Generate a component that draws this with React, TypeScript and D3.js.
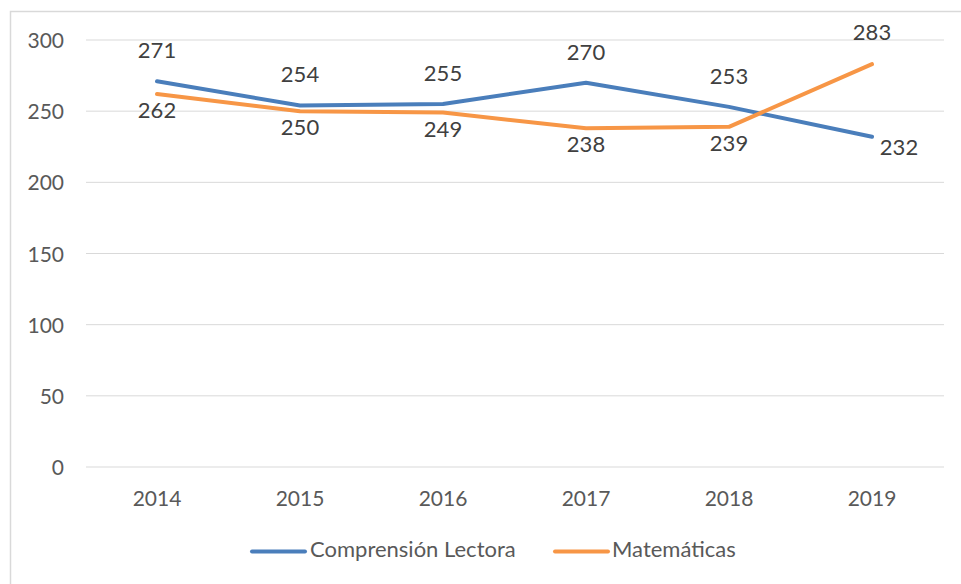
import React from 'react';
import * as d3 from 'd3';

const years = ['2014', '2015', '2016', '2017', '2018', '2019'];
const lectora = [271, 254, 255, 270, 253, 232];
const matematicas = [262, 250, 249, 238, 239, 283];
const yTicks = [0, 50, 100, 150, 200, 250, 300];
// which series' label sits above the point (true) for each year
const lectoraAbove = [true, true, true, true, true, false];

const W = 961;
const H = 584;
const BLUE = '#4a7ebb';
const ORANGE = '#f79646';
const TEXT = '#595959';
const FONT = 'Lato, "Open Sans", sans-serif';

const App = () => {
  const x = d3.scalePoint().domain(years).range([157, 872]);
  const y = d3.scaleLinear().domain([0, 300]).range([467, 40]);

  const line = d3.line<number>()
    .x((d, i) => x(years[i]) as number)
    .y(d => y(d));

  const series = [
    { name: 'Comprensión Lectora', values: lectora, color: BLUE },
    { name: 'Matemáticas', values: matematicas, color: ORANGE },
  ];

  return (
    <svg width={W} height={H} style={{ position: 'absolute', left: 0, top: 0 }} fontFamily={FONT}>
      <rect x={0} y={0} width={W} height={H} fill="white" />
      <rect x={10.5} y={11.5} width={W + 10} height={H + 10} fill="none" stroke="#d9d9d9" strokeWidth={1.5} />

      {/* grid + y labels */}
      {yTicks.map(t => (
        <g key={t}>
          <line x1={86} x2={944} y1={y(t)} y2={y(t)} stroke="#d9d9d9" strokeWidth={1} />
          <text x={64} y={y(t) + 8} textAnchor="end" fontSize={21} fill={TEXT}>{t}</text>
        </g>
      ))}

      {/* x labels */}
      {years.map(yr => (
        <text key={yr} x={x(yr)} y={506} textAnchor="middle" fontSize={21} fill={TEXT}>{yr}</text>
      ))}

      {/* lines */}
      {series.map(s => (
        <path key={s.name} d={line(s.values) || ''} fill="none" stroke={s.color}
          strokeWidth={4} strokeLinejoin="round" strokeLinecap="round" />
      ))}

      {/* data labels */}
      {years.map((yr, i) => {
        const up = lectoraAbove[i];
        const px = x(yr) as number;
        return (
          <g key={yr} fontSize={22} fill="#404040" textAnchor="middle">
            <text x={up ? px : px + 27} y={up ? y(lectora[i]) - 23 : y(lectora[i]) + 18}>{lectora[i]}</text>
            <text x={px} y={up ? y(matematicas[i]) + 24 : y(matematicas[i]) - 24}>{matematicas[i]}</text>
          </g>
        );
      })}

      {/* legend */}
      <line x1={252} x2={305} y1={551.5} y2={551.5} stroke={BLUE} strokeWidth={4} strokeLinecap="round" />
      <text x={310} y={557} fontSize={22} fill={TEXT}>Comprensión Lectora</text>
      <line x1={555} x2={608} y1={551.5} y2={551.5} stroke={ORANGE} strokeWidth={4} strokeLinecap="round" />
      <text x={612} y={557} fontSize={22} fill={TEXT}>Matemáticas</text>
    </svg>
  );
};

export default App;
